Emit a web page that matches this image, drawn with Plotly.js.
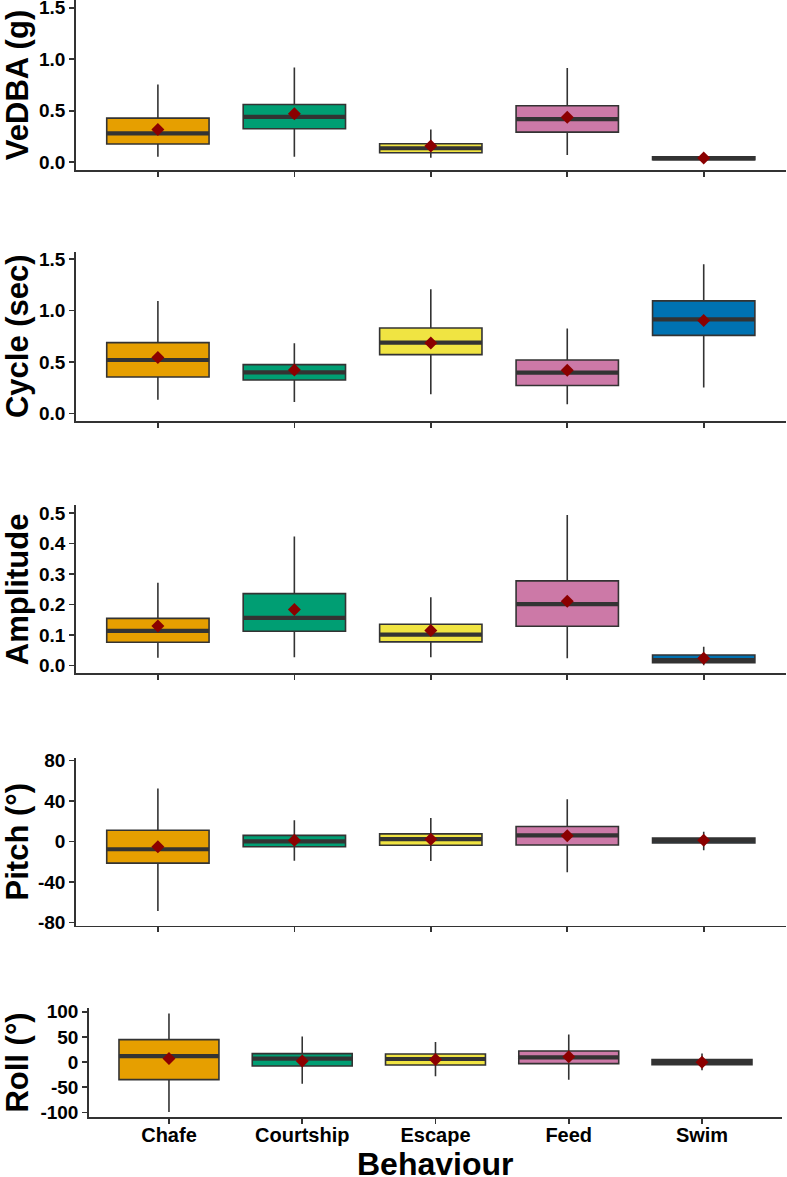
<!DOCTYPE html>
<html>
<head>
<meta charset="utf-8">
<script src="https://cdn.plot.ly/plotly-3.0.1.min.js"></script>
<style>html,body{margin:0;padding:0;background:#fff}#chart{width:787px;height:1177px}</style>
</head>
<body>
<div id="chart"></div>
<script>
// ---- data ----
const categories = ['Chafe', 'Courtship', 'Escape', 'Feed', 'Swim'];
const positions = [1, 2, 3, 4, 5];
const boxColors = ['#E69F00', '#009E73', '#F0E442', '#CC79A7', '#0072B2'];
const xTitle = 'Behaviour';

const vedbaLo   = [0.054, 0.054, 0.045, 0.071, 0.018];
const vedbaQ1   = [0.177, 0.325, 0.093, 0.293, 0.025];
const vedbaMed  = [0.281, 0.441, 0.136, 0.419, 0.038];
const vedbaQ3   = [0.429, 0.561, 0.180, 0.548, 0.052];
const vedbaHi   = [0.755, 0.920, 0.319, 0.916, 0.062];
const vedbaMean = [0.319, 0.470, 0.158, 0.436, 0.042];

const cycleLo   = [0.133, 0.110, 0.185, 0.088, 0.250];
const cycleQ1   = [0.353, 0.324, 0.571, 0.270, 0.759];
const cycleMed  = [0.519, 0.399, 0.688, 0.396, 0.915];
const cycleQ3   = [0.688, 0.474, 0.831, 0.519, 1.094];
const cycleHi   = [1.094, 0.682, 1.207, 0.825, 1.451];
const cycleMean = [0.542, 0.422, 0.685, 0.419, 0.903];

const ampLo   = [0.026, 0.028, 0.028, 0.024, 0.001];
const ampQ1   = [0.077, 0.113, 0.078, 0.129, 0.010];
const ampMed  = [0.114, 0.157, 0.102, 0.202, 0.018];
const ampQ3   = [0.155, 0.236, 0.136, 0.278, 0.035];
const ampHi   = [0.272, 0.423, 0.224, 0.494, 0.062];
const ampMean = [0.130, 0.184, 0.115, 0.211, 0.024];

const pitchLo   = [-68.7, -19.2, -19.5, -30.6, -8.8];
const pitchQ1   = [-21.5, -5.3, -3.9, -3.6, -1.6];
const pitchMed  = [-7.8, 0.0, 2.2, 5.9, 0.8];
const pitchQ3   = [11.0, 5.9, 7.4, 14.6, 3.2];
const pitchHi   = [52.3, 20.8, 23.0, 41.6, 9.4];
const pitchMean = [-5.3, 1.0, 2.0, 5.5, 1.0];

const rollLo   = [-99.4, -43.0, -28.4, -35.0, -16.5];
const rollQ1   = [-35.0, -8.0, -6.0, -3.2, -5.2];
const rollMed  = [11.9, 6.8, 6.0, 9.3, 0.0];
const rollQ3   = [44.5, 16.7, 15.9, 21.9, 4.8];
const rollHi   = [96.2, 50.5, 39.8, 54.5, 16.7];
const rollMean = [6.8, 2.0, 4.8, 10.7, -0.6];

const vedbaTicks = [0, 0.5, 1.0, 1.5];
const vedbaTickText = ['0.0', '0.5', '1.0', '1.5'];
const cycleTicks = [0, 0.5, 1.0, 1.5];
const cycleTickText = ['0.0', '0.5', '1.0', '1.5'];
const ampTicks = [0, 0.1, 0.2, 0.3, 0.4, 0.5];
const ampTickText = ['0.0', '0.1', '0.2', '0.3', '0.4', '0.5'];
const pitchTicks = [-80, -40, 0, 40, 80];
const pitchTickText = ['-80', '-40', '0', '40', '80'];
const rollTicks = [-100, -50, 0, 50, 100];
const rollTickText = ['-100', '-50', '0', '50', '100'];

const panels = [
  {title: 'VeDBA (g)',   lo: vedbaLo, q1: vedbaQ1, med: vedbaMed, q3: vedbaQ3, hi: vedbaHi, mean: vedbaMean,
   ticks: vedbaTicks, tickText: vedbaTickText, range: [-0.075, 1.575], ydom: [0.85556, 1.0], xdom: [0.0966, 0.9982]},
  {title: 'Cycle (sec)', lo: cycleLo, q1: cycleQ1, med: cycleMed, q3: cycleQ3, hi: cycleHi, mean: cycleMean,
   ticks: cycleTicks, tickText: cycleTickText, range: [-0.075, 1.575], ydom: [0.64231, 0.78632], xdom: [0.0966, 0.9982]},
  {title: 'Amplitude',   lo: ampLo, q1: ampQ1, med: ampMed, q3: ampQ3, hi: ampHi, mean: ampMean,
   ticks: ampTicks, tickText: ampTickText, range: [-0.025, 0.525], ydom: [0.42795, 0.57052], xdom: [0.0966, 0.9982]},
  {title: 'Pitch (°)',   lo: pitchLo, q1: pitchQ1, med: pitchMed, q3: pitchQ3, hi: pitchHi, mean: pitchMean,
   ticks: pitchTicks, tickText: pitchTickText, range: [-83.3, 82.6], ydom: [0.21351, 0.35624], xdom: [0.0966, 0.9982]},
  {title: 'Roll (°)',    lo: rollLo, q1: rollQ1, med: rollMed, q3: rollQ3, hi: rollHi, mean: rollMean,
   ticks: rollTicks, tickText: rollTickText, range: [-108.7, 106.8], ydom: [0.05123, 0.14334], xdom: [0.1131, 0.9936]}
];

// ---- build ----
const BOXW = 0.75;
const LINE = '#333333';
const FONT = 'Liberation Sans, Arial, sans-serif';
const traces = [];
const lastDom = panels[panels.length - 1].xdom;
const layout = {
  width: 787, height: 1177,
  margin: {l: 0, r: 0, t: 0, b: 0},
  paper_bgcolor: '#ffffff', plot_bgcolor: '#ffffff',
  showlegend: false,
  font: {family: FONT, color: '#000000'},
  annotations: [{
    text: '<b>' + xTitle + '</b>', xref: 'paper', yref: 'paper',
    x: (lastDom[0] + lastDom[1]) / 2, y: 0, xanchor: 'center', yanchor: 'bottom',
    yshift: -7, showarrow: false,
    font: {family: FONT, size: 32, color: '#000000'}
  }]
};

panels.forEach((p, k) => {
  const n = k + 1;
  const xa = n === 1 ? 'x' : 'x' + n;
  const ya = n === 1 ? 'y' : 'y' + n;
  categories.forEach((c, i) => {
    traces.push({
      type: 'box', xaxis: xa, yaxis: ya, name: c,
      x: [positions[i]], q1: [p.q1[i]], median: [p.med[i]], q3: [p.q3[i]],
      lowerfence: [p.lo[i]], upperfence: [p.hi[i]],
      width: BOXW, fillcolor: boxColors[i],
      line: {color: LINE, width: 1.6}, whiskerwidth: 0,
      hoverinfo: 'skip'
    });
  });
  // thick median lines
  const mx = [], my = [];
  positions.forEach((x, i) => {
    mx.push(x - BOXW / 2, x + BOXW / 2, null);
    my.push(p.med[i], p.med[i], null);
  });
  traces.push({type: 'scatter', mode: 'lines', xaxis: xa, yaxis: ya, x: mx, y: my,
    line: {color: LINE, width: 4.2}, hoverinfo: 'skip'});
  // means
  traces.push({type: 'scatter', mode: 'markers', xaxis: xa, yaxis: ya, x: positions, y: p.mean,
    marker: {symbol: 'diamond', size: 10, color: '#8B0000'}, hoverinfo: 'skip', cliponaxis: false});

  const last = n === panels.length;
  layout['xaxis' + (n === 1 ? '' : n)] = {
    domain: p.xdom, anchor: ya, range: [0.4, 5.6],
    tickvals: positions, ticktext: categories, showticklabels: last,
    ticks: 'outside', ticklen: 5, tickwidth: 1.6, tickcolor: LINE,
    ticklabelstandoff: -6, ticklabeloverflow: 'allow',
    showline: true, linecolor: LINE, linewidth: 1.8,
    showgrid: false, zeroline: false, fixedrange: true,
    tickfont: {family: FONT, size: 20, color: '#000000', weight: 'bold'},
    title: {text: ''}
  };
  layout['yaxis' + (n === 1 ? '' : n)] = {
    domain: p.ydom, anchor: xa, range: p.range,
    tickvals: p.ticks, ticktext: p.tickText,
    ticks: 'outside', ticklen: 5, tickwidth: 1.6, tickcolor: LINE,
    ticklabeloverflow: 'allow',
    showline: true, linecolor: LINE, linewidth: 1.8,
    showgrid: false, zeroline: false, fixedrange: true,
    tickfont: {family: FONT, size: 19, color: '#000000', weight: 'bold'},
    title: {text: '<b>' + p.title + '</b>', font: {family: FONT, size: 31, color: '#000000'}, standoff: 4}
  };
});

Plotly.newPlot('chart', traces, layout, {staticPlot: true, displayModeBar: false});
</script>
</body>
</html>
